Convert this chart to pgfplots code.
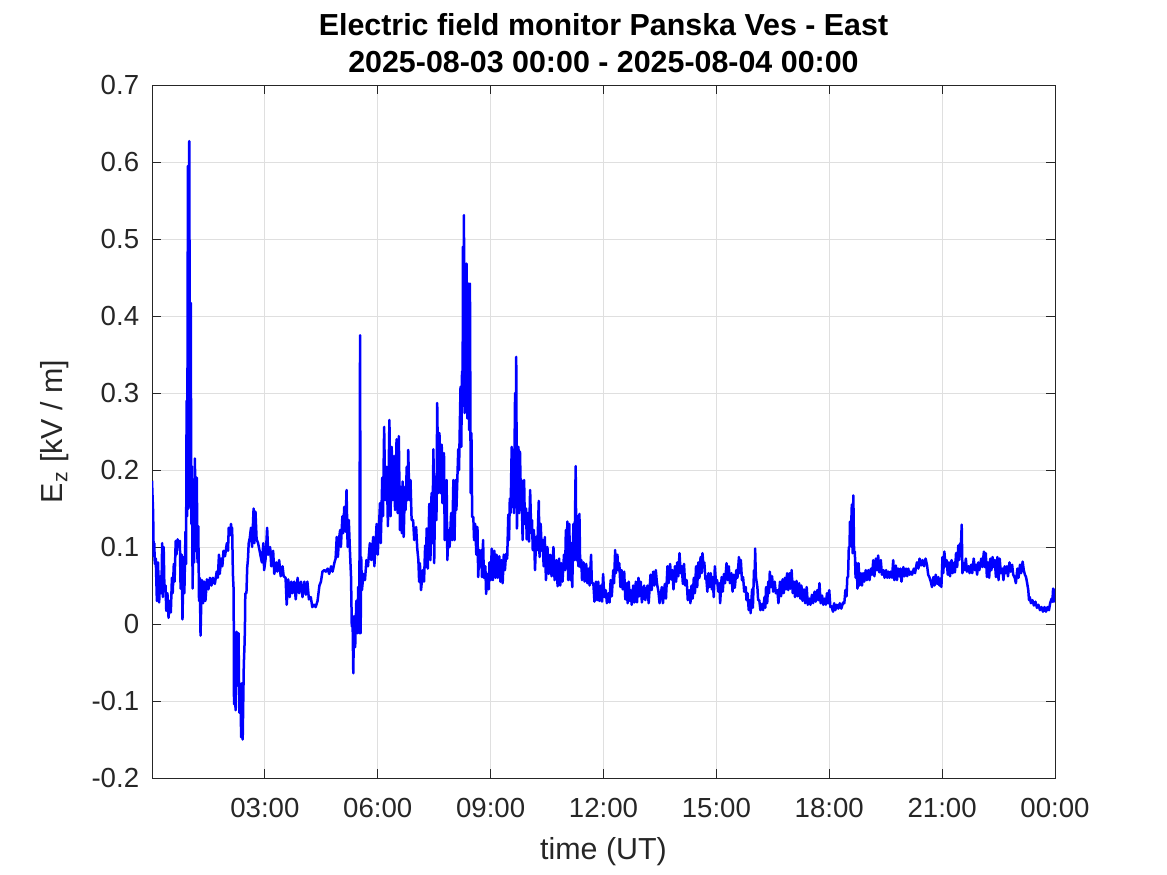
\documentclass[border=0pt]{standalone}
\usepackage{fontspec}
\setmainfont{Liberation Sans}
\usepackage{pgfplots}
\pgfplotsset{compat=1.18}
\definecolor{axgray}{RGB}{38,38,38}
\definecolor{gridgray}{RGB}{223,223,223}
\definecolor{fieldblue}{RGB}{0,0,255}
\pgfplotstableread{
h v
0.000 0.186
0.015 0.165
0.030 0.145
0.045 0.088
0.060 0.105
0.075 0.078
0.10 0.085
0.13 0.030
0.16 0.080
0.19 0.028
0.22 0.062
0.25 0.040
0.27 0.105
0.29 0.035
0.31 0.100
0.33 0.046
0.36 0.050
0.38 0.017
0.41 0.040
0.44 0.008
0.47 0.030
0.50 0.015
0.53 0.060
0.55 0.040
0.58 0.078
0.60 0.055
0.63 0.108
0.65 0.090
0.68 0.110
0.71 0.100
0.74 0.108
0.76 0.046
0.79 0.090
0.81 0.006
0.84 0.087
0.86 0.040
0.89 0.120
0.905 0.078
0.92 0.290
0.935 0.140
0.955 0.595
0.97 0.150
0.99 0.627
1.01 0.240
1.03 0.417
1.045 0.130
1.06 0.205
1.08 0.046
1.10 0.160
1.12 0.080
1.14 0.215
1.165 0.095
1.19 0.190
1.21 0.080
1.23 0.127
1.25 0.030
1.27 0.060
1.29 -0.015
1.31 0.030
1.33 0.057
1.36 0.027
1.39 0.055
1.42 0.030
1.46 0.058
1.50 0.045
1.54 0.060
1.58 0.050
1.62 0.060
1.67 0.052
1.72 0.068
1.75 0.060
1.78 0.090
1.80 0.065
1.84 0.085
1.87 0.075
1.90 0.095
1.94 0.088
1.99 0.105
2.02 0.095
2.04 0.125
2.07 0.115
2.10 0.130
2.12 0.120
2.13 0.125
2.15 0.065
2.17 0.044
2.18 -0.104
2.20 -0.015
2.22 -0.112
2.25 -0.010
2.28 -0.080
2.30 -0.012
2.32 -0.115
2.35 -0.088
2.37 -0.147
2.39 -0.077
2.41 -0.150
2.44 -0.053
2.46 -0.026
2.47 -0.005
2.48 0.040
2.51 0.040
2.53 0.073
2.55 0.084
2.57 0.105
2.60 0.112
2.63 0.125
2.66 0.100
2.70 0.150
2.72 0.105
2.75 0.146
2.78 0.110
2.82 0.105
2.86 0.095
2.92 0.080
2.96 0.105
2.98 0.070
3.02 0.085
3.06 0.125
3.09 0.090
3.14 0.100
3.17 0.075
3.22 0.095
3.25 0.065
3.30 0.080
3.33 0.068
3.38 0.083
3.42 0.062
3.47 0.075
3.50 0.062
3.55 0.060
3.58 0.025
3.62 0.058
3.66 0.035
3.70 0.055
3.73 0.040
3.78 0.055
3.82 0.032
3.87 0.060
3.91 0.040
3.96 0.055
4.00 0.035
4.05 0.055
4.09 0.038
4.13 0.055
4.17 0.032
4.22 0.035
4.26 0.022
4.31 0.025
4.35 0.022
4.40 0.030
4.45 0.050
4.49 0.055
4.53 0.068
4.58 0.070
4.62 0.068
4.67 0.072
4.71 0.065
4.76 0.075
4.80 0.068
4.85 0.080
4.88 0.085
4.91 0.113
4.94 0.087
4.97 0.110
5.00 0.122
5.02 0.100
5.06 0.140
5.08 0.118
5.11 0.152
5.14 0.120
5.17 0.174
5.20 0.100
5.23 0.135
5.26 0.096
5.29 0.061
5.31 -0.003
5.33 0.010
5.35 -0.064
5.37 0.010
5.40 -0.030
5.43 0.030
5.46 -0.012
5.48 0.048
5.51 -0.012
5.53 0.375
5.545 -0.012
5.56 0.087
5.58 0.044
5.62 0.065
5.66 0.057
5.70 0.083
5.74 0.075
5.79 0.105
5.83 0.083
5.88 0.113
5.91 0.075
5.97 0.130
6.00 0.090
6.06 0.157
6.08 0.105
6.12 0.190
6.14 0.140
6.17 0.256
6.20 0.161
6.24 0.204
6.27 0.127
6.31 0.265
6.34 0.140
6.37 0.230
6.40 0.161
6.43 0.218
6.46 0.148
6.50 0.240
6.53 0.144
6.56 0.244
6.59 0.122
6.61 0.178
6.64 0.118
6.66 0.185
6.69 0.113
6.72 0.178
6.74 0.148
6.77 0.204
6.79 0.161
6.81 0.226
6.84 0.161
6.87 0.187
6.90 0.135
6.94 0.135
6.97 0.109
7.02 0.126
7.05 0.098
7.08 0.083
7.10 0.055
7.12 0.079
7.15 0.044
7.20 0.070
7.23 0.055
7.26 0.102
7.28 0.074
7.30 0.124
7.33 0.072
7.37 0.156
7.40 0.083
7.43 0.170
7.45 0.105
7.48 0.227
7.50 0.079
7.53 0.191
7.56 0.135
7.58 0.287
7.61 0.170
7.64 0.248
7.67 0.170
7.70 0.233
7.72 0.157
7.76 0.222
7.78 0.109
7.83 0.187
7.85 0.083
7.88 0.122
7.91 0.100
7.95 0.144
7.98 0.109
8.01 0.187
8.04 0.109
8.07 0.187
8.09 0.148
8.14 0.227
8.16 0.200
8.20 0.308
8.22 0.230
8.24 0.328
8.255 0.283
8.265 0.490
8.28 0.360
8.29 0.531
8.31 0.274
8.32 0.468
8.34 0.300
8.36 0.468
8.38 0.267
8.41 0.442
8.43 0.252
8.45 0.442
8.47 0.170
8.49 0.248
8.51 0.139
8.54 0.139
8.56 0.109
8.59 0.130
8.62 0.090
8.65 0.126
8.67 0.061
8.70 0.096
8.72 0.075
8.75 0.096
8.77 0.061
8.80 0.109
8.82 0.060
8.86 0.075
8.88 0.039
8.92 0.065
8.95 0.045
8.97 0.080
9.00 0.057
9.03 0.098
9.06 0.057
9.10 0.095
9.13 0.060
9.16 0.090
9.19 0.060
9.23 0.088
9.26 0.055
9.29 0.083
9.32 0.053
9.35 0.090
9.38 0.070
9.41 0.091
9.44 0.085
9.47 0.142
9.49 0.109
9.51 0.163
9.53 0.144
9.56 0.230
9.58 0.152
9.60 0.226
9.62 0.144
9.65 0.300
9.665 0.200
9.68 0.347
9.70 0.124
9.74 0.230
9.76 0.144
9.78 0.224
9.80 0.174
9.82 0.187
9.85 0.109
9.89 0.187
9.91 0.130
9.94 0.150
9.96 0.110
9.99 0.144
10.02 0.107
10.05 0.174
10.08 0.118
10.10 0.135
10.12 0.096
10.15 0.122
10.18 0.070
10.21 0.113
10.24 0.096
10.28 0.160
10.30 0.087
10.33 0.130
10.36 0.095
10.38 0.109
10.41 0.075
10.44 0.113
10.47 0.057
10.51 0.100
10.54 0.065
10.58 0.090
10.62 0.062
10.67 0.100
10.70 0.057
10.75 0.083
10.78 0.049
10.82 0.085
10.85 0.050
10.88 0.079
10.91 0.055
10.95 0.090
10.98 0.070
11.00 0.122
11.02 0.092
11.04 0.133
11.06 0.057
11.09 0.130
11.12 0.057
11.15 0.105
11.17 0.048
11.20 0.130
11.23 0.083
11.26 0.205
11.28 0.083
11.31 0.140
11.33 0.075
11.36 0.143
11.38 0.074
11.41 0.083
11.43 0.057
11.47 0.080
11.50 0.055
11.54 0.078
11.57 0.053
11.60 0.072
11.63 0.050
11.67 0.090
11.69 0.053
11.73 0.053
11.76 0.029
11.80 0.055
11.83 0.031
11.86 0.055
11.89 0.030
11.93 0.050
11.96 0.029
11.99 0.065
12.02 0.035
12.06 0.044
12.09 0.027
12.13 0.040
12.16 0.028
12.19 0.057
12.22 0.036
12.26 0.070
12.28 0.053
12.31 0.096
12.33 0.066
12.37 0.090
12.39 0.070
12.42 0.079
12.45 0.048
12.48 0.070
12.51 0.045
12.55 0.068
12.58 0.032
12.62 0.053
12.64 0.027
12.67 0.055
12.70 0.030
12.72 0.044
12.75 0.025
12.79 0.050
12.82 0.028
12.86 0.055
12.89 0.028
12.93 0.060
12.95 0.036
12.99 0.055
13.02 0.028
13.08 0.050
13.11 0.031
13.17 0.050
13.20 0.027
13.25 0.064
13.28 0.044
13.32 0.068
13.35 0.050
13.39 0.070
13.42 0.053
13.46 0.042
13.49 0.027
13.55 0.048
13.58 0.027
13.63 0.052
13.66 0.033
13.70 0.075
13.73 0.053
13.77 0.078
13.80 0.058
13.83 0.070
13.86 0.045
13.90 0.075
13.93 0.055
13.96 0.080
13.99 0.062
14.02 0.092
14.05 0.066
14.08 0.075
14.11 0.052
14.14 0.078
14.17 0.050
14.21 0.057
14.24 0.031
14.28 0.044
14.31 0.027
14.34 0.050
14.37 0.033
14.40 0.060
14.43 0.040
14.46 0.075
14.49 0.048
14.52 0.080
14.55 0.060
14.58 0.087
14.61 0.066
14.63 0.092
14.66 0.074
14.68 0.080
14.71 0.058
14.73 0.062
14.76 0.042
14.79 0.066
14.82 0.048
14.85 0.066
14.88 0.045
14.90 0.061
14.93 0.035
14.96 0.075
14.99 0.053
15.02 0.057
15.05 0.042
15.08 0.053
15.10 0.027
15.14 0.061
15.17 0.042
15.20 0.065
15.23 0.053
15.27 0.079
15.30 0.057
15.33 0.075
15.36 0.053
15.40 0.066
15.43 0.042
15.46 0.064
15.49 0.047
15.53 0.070
15.56 0.060
15.60 0.087
15.62 0.066
15.65 0.083
15.68 0.057
15.71 0.061
15.74 0.042
15.78 0.048
15.80 0.031
15.83 0.040
15.86 0.018
15.89 0.031
15.91 0.014
15.95 0.045
15.97 0.021
16.00 0.070
16.02 0.057
16.03 0.098
16.05 0.061
16.09 0.048
16.11 0.031
16.14 0.031
16.17 0.018
16.21 0.026
16.24 0.018
16.28 0.035
16.30 0.021
16.32 0.048
16.35 0.027
16.38 0.055
16.40 0.040
16.42 0.068
16.45 0.048
16.48 0.062
16.51 0.042
16.55 0.055
16.58 0.040
16.62 0.044
16.65 0.027
16.69 0.055
16.72 0.036
16.76 0.058
16.79 0.040
16.82 0.060
16.85 0.045
16.88 0.066
16.91 0.044
16.94 0.066
16.97 0.046
17.00 0.070
17.03 0.040
17.06 0.055
17.09 0.035
17.13 0.056
17.16 0.036
17.20 0.053
17.23 0.033
17.26 0.050
17.29 0.030
17.33 0.045
17.36 0.027
17.40 0.048
17.43 0.025
17.47 0.033
17.50 0.025
17.54 0.038
17.57 0.027
17.61 0.042
17.64 0.029
17.68 0.044
17.71 0.031
17.74 0.053
17.77 0.027
17.81 0.037
17.84 0.025
17.88 0.033
17.91 0.025
17.94 0.040
17.97 0.027
18.00 0.044
18.03 0.022
18.06 0.023
18.10 0.016
18.13 0.027
18.16 0.018
18.20 0.025
18.24 0.020
18.28 0.027
18.32 0.020
18.37 0.028
18.40 0.027
18.43 0.044
18.46 0.036
18.48 0.061
18.50 0.061
18.52 0.100
18.54 0.100
18.55 0.133
18.57 0.107
18.60 0.155
18.62 0.092
18.64 0.167
18.66 0.092
18.68 0.094
18.70 0.060
18.73 0.079
18.75 0.046
18.78 0.079
18.80 0.050
18.84 0.066
18.87 0.050
18.90 0.066
18.93 0.055
18.97 0.070
19.00 0.057
19.04 0.070
19.07 0.057
19.11 0.072
19.14 0.064
19.17 0.083
19.20 0.062
19.24 0.085
19.27 0.070
19.30 0.089
19.33 0.067
19.37 0.083
19.40 0.064
19.44 0.070
19.47 0.060
19.51 0.070
19.54 0.060
19.57 0.068
19.60 0.060
19.63 0.068
19.67 0.060
19.70 0.083
19.73 0.057
19.77 0.076
19.80 0.057
19.83 0.072
19.86 0.062
19.89 0.072
19.92 0.055
19.97 0.074
20.00 0.062
20.04 0.072
20.07 0.062
20.10 0.072
20.13 0.064
20.17 0.068
20.20 0.064
20.25 0.072
20.28 0.066
20.33 0.080
20.37 0.072
20.40 0.085
20.44 0.076
20.48 0.083
20.52 0.075
20.56 0.085
20.60 0.076
20.63 0.064
20.66 0.061
20.70 0.055
20.73 0.048
20.77 0.061
20.80 0.050
20.83 0.064
20.87 0.052
20.90 0.061
20.93 0.050
20.96 0.059
20.98 0.048
21.01 0.087
21.03 0.066
21.06 0.094
21.09 0.075
21.12 0.083
21.15 0.064
21.18 0.080
21.21 0.062
21.25 0.083
21.28 0.066
21.32 0.080
21.34 0.067
21.37 0.092
21.40 0.074
21.43 0.102
21.45 0.083
21.48 0.105
21.50 0.100
21.52 0.129
21.54 0.066
21.57 0.079
21.60 0.070
21.63 0.085
21.66 0.068
21.70 0.075
21.73 0.066
21.77 0.077
21.80 0.066
21.84 0.085
21.87 0.070
21.90 0.077
21.93 0.064
21.96 0.080
21.99 0.070
22.04 0.085
22.07 0.074
22.11 0.094
22.13 0.074
22.16 0.092
22.19 0.061
22.22 0.080
22.25 0.060
22.28 0.085
22.31 0.070
22.34 0.087
22.37 0.074
22.40 0.083
22.43 0.061
22.47 0.087
22.50 0.057
22.53 0.085
22.56 0.066
22.60 0.072
22.63 0.057
22.66 0.075
22.69 0.066
22.72 0.075
22.75 0.062
22.79 0.080
22.82 0.068
22.86 0.077
22.89 0.064
22.93 0.060
22.96 0.053
23.00 0.072
23.03 0.060
23.07 0.077
23.10 0.066
23.14 0.081
23.17 0.070
23.20 0.064
23.23 0.061
23.26 0.053
23.29 0.044
23.31 0.031
23.33 0.035
23.36 0.027
23.40 0.031
23.44 0.024
23.48 0.029
23.52 0.021
23.56 0.025
23.60 0.018
23.64 0.022
23.68 0.016
23.72 0.022
23.76 0.016
23.80 0.022
23.84 0.018
23.87 0.027
23.91 0.033
23.93 0.029
23.95 0.046
23.97 0.029
24.00 0.046
}\fielddata
\begin{document}
\begin{tikzpicture}
\path[use as bounding box] (0,0) rectangle (583.5bp,437.5bp);
\begin{axis}[
  at={(76bp,48.5bp)}, anchor=south west,
  scale only axis, width=451.5bp, height=346.5bp,
  xmin=0, xmax=24, ymin=-0.2, ymax=0.7,
  xtick={3,6,9,12,15,18,21,24},
  xticklabels={03:00,06:00,09:00,12:00,15:00,18:00,21:00,00:00},
  ytick={-0.2,-0.1,0,0.1,0.2,0.3,0.4,0.5,0.6,0.7},
  yticklabels={-0.2,-0.1,0,0.1,0.2,0.3,0.4,0.5,0.6,0.7},
  tick align=inside, major tick length=4.5bp,
  xmajorgrids, ymajorgrids,
  grid style={gridgray, line width=0.5bp},
  axis line style={axgray, line width=0.5bp},
  tick style={axgray, line width=0.5bp},
  ticklabel style={font=\fontsize{13.8bp}{16bp}\selectfont, text=axgray},
  xticklabel style={anchor=north, inner sep=0pt, yshift=-10bp},
  yticklabel style={anchor=east, inner sep=0pt, xshift=-6.25bp},
  xlabel={time (UT)},
  ylabel={E\textsubscript{z} [kV / m]},
  label style={font=\fontsize{15.2bp}{18bp}\selectfont, text=axgray, inner sep=0pt},
  xlabel style={at={(axis description cs:0.5,-0.1169)}, anchor=base},
  ylabel style={at={(axis description cs:-0.0986,0.5)}, anchor=base},
  title={Electric field monitor Panska Ves - East\\2025-08-03 00:00 - 2025-08-04 00:00},
  title style={at={(axis description cs:0.5,1)}, anchor=south, inner sep=0pt, yshift=0bp,
    align=center, font=\fontsize{15.2bp}{18.5bp}\selectfont\bfseries, text=black},
]
\addplot[fieldblue, line width=1.25bp, line join=round, mark=none] table[x=h, y=v] {\fielddata};
\end{axis}
\end{tikzpicture}
\end{document}
